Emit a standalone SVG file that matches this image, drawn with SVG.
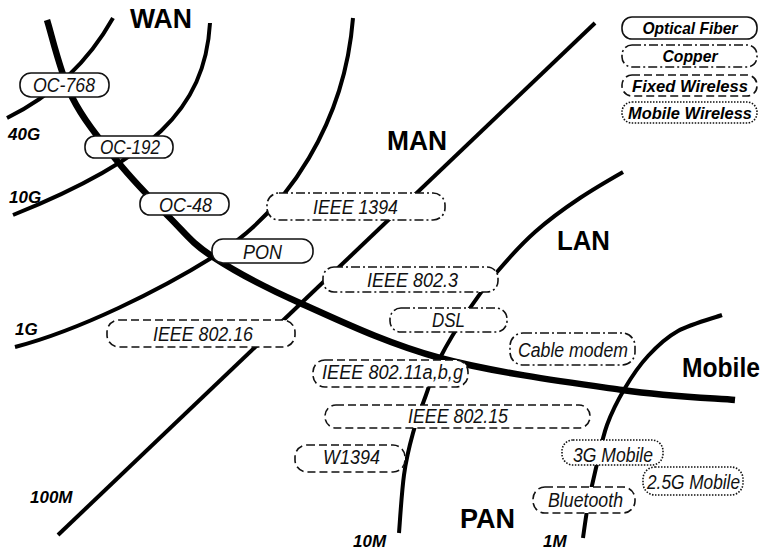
<svg xmlns="http://www.w3.org/2000/svg" width="766" height="551" viewBox="0 0 766 551">
<style>
.c{fill:none;stroke:#000;stroke-width:4;stroke-linecap:butt}
.thick{stroke-width:6.5}
.b{fill:#fff;stroke:#111;stroke-width:1.6}
.fiber{}
.copper{stroke-dasharray:9 3 2 3}
.fixed{stroke-dasharray:8 4}
.mobile{stroke-dasharray:1.5 1.5}
.t{font-family:"Liberation Sans",Arial,sans-serif;font-style:italic;font-size:20px;fill:#111;text-anchor:middle}
.lg{font-family:"Liberation Sans",Arial,sans-serif;font-style:italic;font-weight:bold;font-size:17px;fill:#000;text-anchor:middle}
.big{font-family:"Liberation Sans",Arial,sans-serif;font-weight:bold;font-size:27px;fill:#000;text-anchor:middle}
.sp{font-family:"Liberation Sans",Arial,sans-serif;font-weight:bold;font-style:italic;font-size:17px;fill:#000}
</style>
<rect width="766" height="551" fill="#fff"/>
<g id="connectors">
<path class="c thick" d="M47,20 C51.2,32.8 60.2,73.3 72,97 C83.8,120.7 101.7,141.8 118,162 C134.3,182.2 154.2,202.2 170,218 C185.8,233.8 191.3,242.8 213,257 C234.7,271.2 262.2,286.2 300,303 C337.8,319.8 386.3,343.5 440,358 C493.7,372.5 572.8,383 622,390 C671.2,397 716.2,398.3 735,400"/>
<path class="c" d="M113,18 Q76,84 7,118"/>
<path class="c" d="M210,23 C205,110 150,160 13,215"/>
<path class="c" d="M353,18 C345,120 290,210 213,257 C160,290 80,330 15,347"/>
<path class="c" d="M595,23 L58,535"/>
<path class="c" d="M623,172 C615.5,176.3 595,188 580,198 C565,208 548.8,219.7 535,232 C521.2,244.3 507.8,259.3 497,272 C486.2,284.7 479.5,293.7 470,308 C460.5,322.3 447.3,343.5 440,358 C432.7,372.5 430.5,382.5 426,395 C421.5,407.5 416.7,419.7 413,433 C409.3,446.3 406.3,458.3 404,475 C401.7,491.7 399.8,523.3 399,533"/>
<path class="c" d="M722,315 C714.7,317.7 690.3,324.2 678,331 C665.7,337.8 656.8,346.5 648,356 C639.2,365.5 631.8,376.5 625,388 C618.2,399.5 611.8,411.7 607,425 C602.2,438.3 599.2,454.7 596,468 C592.8,481.3 590.2,493.3 588,505 C585.8,516.7 583.8,532.5 583,538"/>
</g>
<g id="region-labels">
<text class="big" x="161" y="28" textLength="62" lengthAdjust="spacingAndGlyphs">WAN</text>
<text class="big" x="417" y="150" textLength="60" lengthAdjust="spacingAndGlyphs">MAN</text>
<text class="big" x="583.5" y="250" textLength="53" lengthAdjust="spacingAndGlyphs">LAN</text>
<text class="big" x="721" y="377" textLength="78" lengthAdjust="spacingAndGlyphs">Mobile</text>
<text class="big" x="487.5" y="528" textLength="55" lengthAdjust="spacingAndGlyphs">PAN</text>
</g>
<g id="speed-labels">
<text class="sp" x="8" y="140">40G</text>
<text class="sp" x="9" y="203">10G</text>
<text class="sp" x="15" y="335">1G</text>
<text class="sp" x="30" y="503">100M</text>
<text class="sp" x="353" y="547">10M</text>
<text class="sp" x="543" y="547">1M</text>
</g>
<g id="oc768"><rect class="b fiber" x="20" y="73" width="89" height="24" rx="11"/><text class="t" x="64" y="92" textLength="62" lengthAdjust="spacingAndGlyphs">OC-768</text></g>
<g id="oc192"><rect class="b fiber" x="85" y="136" width="88" height="22" rx="10"/><text class="t" x="130" y="154" textLength="60" lengthAdjust="spacingAndGlyphs">OC-192</text></g>
<g id="oc48"><rect class="b fiber" x="140" y="193" width="89" height="22" rx="10"/><text class="t" x="185.5" y="211.5" textLength="53" lengthAdjust="spacingAndGlyphs">OC-48</text></g>
<g id="pon"><rect class="b fiber" x="212" y="239" width="101" height="24" rx="11"/><text class="t" x="262.5" y="258.5" textLength="39" lengthAdjust="spacingAndGlyphs">PON</text></g>
<g id="ieee1394"><rect class="b copper" x="267" y="193" width="178" height="27" rx="12"/><text class="t" x="355.5" y="213.5" textLength="85" lengthAdjust="spacingAndGlyphs">IEEE 1394</text></g>
<g id="ieee8023"><rect class="b copper" x="323" y="267" width="175" height="25" rx="11"/><text class="t" x="412.5" y="287" textLength="91" lengthAdjust="spacingAndGlyphs">IEEE 802.3</text></g>
<g id="dsl"><rect class="b copper" x="390" y="308" width="117" height="24" rx="11"/><text class="t" x="448.5" y="327" textLength="33" lengthAdjust="spacingAndGlyphs">DSL</text></g>
<g id="cable"><rect class="b copper" x="510" y="333" width="125" height="32" rx="13"/><text class="t" x="573" y="357" textLength="110" lengthAdjust="spacingAndGlyphs">Cable modem</text></g>
<g id="ieee80216"><rect class="b fixed" x="107" y="320" width="188" height="27" rx="12"/><text class="t" x="203" y="340.5" textLength="100" lengthAdjust="spacingAndGlyphs">IEEE 802.16</text></g>
<g id="ieee80211"><rect class="b fixed" x="313" y="360" width="155" height="27" rx="12"/><text class="t" x="392.5" y="379" textLength="141" lengthAdjust="spacingAndGlyphs">IEEE 802.11a,b,g</text></g>
<g id="ieee80215"><rect class="b fixed" x="325" y="405" width="265" height="23" rx="11"/><text class="t" x="458" y="423" textLength="100" lengthAdjust="spacingAndGlyphs">IEEE 802.15</text></g>
<g id="w1394"><rect class="b fixed" x="295" y="445" width="110" height="27" rx="12"/><text class="t" x="351.5" y="464" textLength="57" lengthAdjust="spacingAndGlyphs">W1394</text></g>
<g id="g3"><rect class="b mobile" x="562" y="440" width="101" height="25" rx="11"/><text class="t" x="613" y="462" textLength="80" lengthAdjust="spacingAndGlyphs">3G Mobile</text></g>
<g id="g25"><rect class="b mobile" x="643" y="467" width="100" height="28" rx="12"/><text class="t" x="693.5" y="488.5" textLength="93" lengthAdjust="spacingAndGlyphs">2.5G Mobile</text></g>
<g id="bluetooth"><rect class="b fixed" x="533" y="487" width="102" height="26" rx="12"/><text class="t" x="585.5" y="507" textLength="75" lengthAdjust="spacingAndGlyphs">Bluetooth</text></g>
<g id="legend">
<g id="legend-fiber"><rect class="b fiber" x="622" y="17" width="135" height="22" rx="10"/><text class="lg" x="690" y="34" textLength="95" lengthAdjust="spacingAndGlyphs">Optical Fiber</text></g>
<g id="legend-copper"><rect class="b copper" x="622" y="45" width="135" height="22" rx="10"/><text class="lg" x="690" y="62" textLength="55" lengthAdjust="spacingAndGlyphs">Copper</text></g>
<g id="legend-fixed"><rect class="b fixed" x="622" y="75" width="135" height="21" rx="10"/><text class="lg" x="690" y="92" textLength="116" lengthAdjust="spacingAndGlyphs">Fixed Wireless</text></g>
<g id="legend-mobile"><rect class="b mobile" x="622" y="102" width="135" height="21" rx="10"/><text class="lg" x="690" y="119" textLength="124" lengthAdjust="spacingAndGlyphs">Mobile Wireless</text></g>
</g>
</svg>
